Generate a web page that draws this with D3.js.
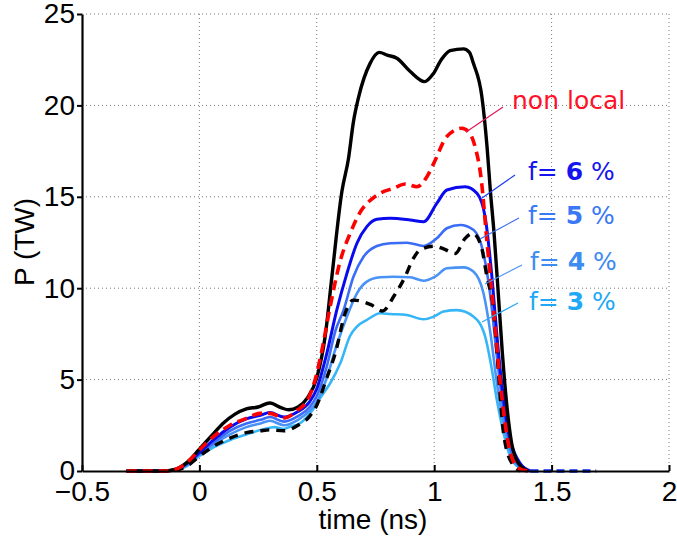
<!DOCTYPE html>
<html>
<head>
<meta charset="utf-8">
<script src="https://cdn.jsdelivr.net/npm/d3@7/dist/d3.min.js"></script>
<style>
  body { margin: 0; background: #fff; }
  svg { display: block; }
  .tick text { font-family: "Liberation Sans", Arial, sans-serif; font-size: 28px; fill: #000; }
</style>
</head>
<body>
<div id="chart"></div>
<script>
// time (ns) and power (TW), one pair of arrays per curve
let tBlack = [-0.31, -0.15, -0.1, -0.05, 0, 0.05, 0.1, 0.15, 0.2, 0.25, 0.3, 0.35, 0.38, 0.42, 0.46, 0.5, 0.536, 0.564, 0.607, 0.635, 0.656, 0.677, 0.727, 0.766, 0.8, 0.841, 0.898, 0.959, 0.997, 1.03, 1.068, 1.125, 1.15, 1.167, 1.203, 1.225, 1.239, 1.255, 1.274, 1.29, 1.31, 1.33, 1.36, 1.4];
let pBlack = [0, 0, 0.1, 0.5, 1.2, 1.9, 2.6, 3.1, 3.4, 3.5, 3.72, 3.45, 3.35, 3.5, 4.0, 5.1, 7.4, 10.6, 15.3, 17.1, 19.1, 20.4, 22.3, 22.9, 22.75, 22.58, 21.85, 21.3, 21.75, 22.5, 23.0, 23.09, 22.9, 22.3, 20.48, 17.74, 15.37, 13.0, 9.5, 6.5, 3.5, 1.5, 0.4, 0];

let tRed = [-0.31, -0.15, -0.1, -0.05, 0, 0.06, 0.13, 0.2, 0.26, 0.3, 0.36, 0.415, 0.465, 0.493, 0.52, 0.557, 0.6, 0.642, 0.692, 0.727, 0.77, 0.827, 0.877, 0.926, 0.969, 0.997, 1.054, 1.118, 1.15, 1.175, 1.2, 1.225, 1.253, 1.28, 1.3, 1.324, 1.36, 1.4];
let pRed = [0, 0, 0.1, 0.5, 1.15, 1.88, 2.5, 2.88, 3.15, 3.15, 2.9, 3.3, 4.0, 5.0, 6.5, 9.0, 11.5, 13.0, 14.3, 14.8, 15.2, 15.47, 15.7, 15.55, 16.1, 16.8, 18.3, 18.75, 18.5, 17.7, 16.0, 12.5, 8.8, 5.0, 2.8, 1.0, 0.15, 0];

let tDash = [-0.31, -0.15, -0.1, -0.05, 0, 0.06, 0.13, 0.2, 0.26, 0.3, 0.36, 0.42, 0.47, 0.5, 0.54, 0.58, 0.62, 0.655, 0.73, 0.78, 0.83, 0.875, 0.91, 0.94, 1.0, 1.04, 1.09, 1.13, 1.165, 1.2, 1.225, 1.253, 1.27, 1.296, 1.331, 1.366];
let pDash = [0, 0, 0.05, 0.3, 0.8, 1.35, 1.8, 2.1, 2.2, 2.25, 2.2, 2.5, 3.0, 3.6, 5.0, 6.5, 8.6, 9.35, 9.1, 8.75, 9.6, 10.6, 11.6, 12.1, 12.3, 12.15, 11.9, 12.7, 13.0, 12.3, 10.6, 8.8, 6.0, 2.0, 0.42, 0];

let t6 = [-0.31, -0.15, -0.1, -0.05, 0, 0.06, 0.13, 0.2, 0.26, 0.3, 0.36, 0.42, 0.47, 0.5, 0.54, 0.585, 0.628, 0.671, 0.713, 0.756, 0.813, 0.898, 0.955, 1.011, 1.054, 1.132, 1.182, 1.217, 1.246, 1.27, 1.29, 1.31, 1.324, 1.366, 1.41];
let p6 = [0, 0, 0.08, 0.45, 1.0, 1.7, 2.4, 2.85, 3.05, 3.2, 2.95, 3.25, 3.8, 4.5, 6.3, 8.8, 10.8, 12.46, 13.37, 13.77, 13.82, 13.73, 13.64, 14.64, 15.37, 15.55, 15.19, 13.9, 10.6, 7.0, 4.5, 2.6, 1.7, 0.42, 0];

let t5 = [-0.31, -0.15, -0.1, -0.05, 0, 0.06, 0.13, 0.2, 0.26, 0.3, 0.36, 0.42, 0.47, 0.5, 0.54, 0.58, 0.614, 0.656, 0.699, 0.756, 0.813, 0.884, 0.955, 1.011, 1.054, 1.111, 1.168, 1.21, 1.24, 1.265, 1.29, 1.31, 1.33, 1.36, 1.4];
let p5 = [0, 0, 0.07, 0.4, 0.95, 1.55, 2.2, 2.6, 2.8, 2.95, 2.7, 3.0, 3.5, 4.1, 5.6, 7.7, 8.8, 10.63, 11.72, 12.31, 12.46, 12.49, 12.31, 12.73, 13.28, 13.46, 13.18, 11.9, 9.5, 6.5, 3.8, 2.2, 1.0, 0.3, 0];

let t4 = [-0.31, -0.15, -0.1, -0.05, 0, 0.06, 0.13, 0.2, 0.26, 0.3, 0.36, 0.42, 0.47, 0.5, 0.54, 0.58, 0.628, 0.671, 0.713, 0.77, 0.827, 0.898, 0.955, 1.004, 1.054, 1.125, 1.168, 1.21, 1.24, 1.265, 1.29, 1.31, 1.33, 1.36, 1.4];
let p4 = [0, 0, 0.06, 0.35, 0.9, 1.45, 2.0, 2.4, 2.6, 2.75, 2.5, 2.8, 3.3, 3.8, 5.0, 6.7, 8.44, 9.72, 10.36, 10.6, 10.63, 10.6, 10.41, 10.63, 11.09, 11.14, 10.9, 9.72, 7.5, 5.0, 3.0, 1.8, 0.9, 0.25, 0];

let t3 = [-0.31, -0.15, -0.1, -0.05, 0, 0.06, 0.131, 0.2, 0.273, 0.32, 0.36, 0.386, 0.429, 0.486, 0.52, 0.557, 0.6, 0.642, 0.671, 0.713, 0.77, 0.813, 0.884, 0.955, 0.997, 1.04, 1.097, 1.168, 1.217, 1.246, 1.267, 1.296, 1.324, 1.366, 1.4];
let p3 = [0, 0, 0.05, 0.3, 0.82, 1.3, 1.7, 2.0, 2.28, 2.4, 2.3, 2.42, 2.61, 3.4, 4.1, 4.8, 5.89, 7.4, 7.9, 8.26, 8.63, 8.59, 8.53, 8.3, 8.44, 8.72, 8.8, 8.44, 7.35, 5.53, 3.88, 2.06, 0.78, 0.15, 0];

let tTail = [1.41, 1.69];
let pTail = [0, 0];

let xTicks = [-0.5, 0, 0.5, 1, 1.5, 2];
let yTicks = [0, 5, 10, 15, 20, 25];

let width = 677,
    height = 541;

let x = d3.scaleLinear().domain([-0.5, 2]).range([82, 669]);
let y = d3.scaleLinear().domain([0, 25]).range([471, 14]);

let svg = d3.select("#chart")
      .append("svg")
      .attr("width", width)
      .attr("height", height);

// dotted grid
svg.append("g").selectAll("line")
    .data(xTicks.slice(1))
    .enter().append("line")
    .attr("x1", d => x(d)).attr("x2", d => x(d))
    .attr("y1", y(0)).attr("y2", y(25))
    .style("stroke", "#7a7a7a").style("stroke-width", 1)
    .style("stroke-dasharray", "1,3");

svg.append("g").selectAll("line")
    .data(yTicks.slice(1))
    .enter().append("line")
    .attr("x1", x(-0.5)).attr("x2", x(2))
    .attr("y1", d => y(d)).attr("y2", d => y(d))
    .style("stroke", "#7a7a7a").style("stroke-width", 1)
    .style("stroke-dasharray", "1,3");

let line = d3.line()
      .x(d => x(d[0]))
      .y(d => y(d[1]))
      .curve(d3.curveMonotoneX);

function pairs(t, p) { return t.map((v, i) => [v, p[i]]); }

let series = [
  { t: t3, p: p3, color: "#36b6f8", w: 2.6, dash: null },
  { t: t4, p: p4, color: "#4a93f6", w: 2.6, dash: null },
  { t: t5, p: p5, color: "#3a6cf6", w: 2.6, dash: null },
  { t: t6, p: p6, color: "#0a0aee", w: 3, dash: null },
  { t: tBlack, p: pBlack, color: "#000", w: 3.4, dash: null },
  { t: tDash, p: pDash, color: "#000", w: 3.4, dash: "9,7" },
  { t: tRed, p: pRed, color: "#ff0000", w: 3.6, dash: "10,6" },
  { t: tTail, p: pTail, color: "#0a2af0", w: 3.6, dash: "8,5" }
];

svg.append("g").selectAll("path")
    .data(series)
    .enter().append("path")
    .attr("d", d => line(pairs(d.t, d.p)))
    .style("fill", "none")
    .style("stroke", d => d.color)
    .style("stroke-width", d => d.w)
    .style("stroke-dasharray", d => d.dash)
    .style("stroke-linejoin", "round");

// axes
let xAxis = d3.axisBottom(x)
      .tickValues(xTicks)
      .tickFormat(d => d < 0 ? "\u2212" + Math.abs(d) : d)
      .tickSizeInner(-6)
      .tickSizeOuter(0)
      .tickPadding(10);

let yAxis = d3.axisLeft(y)
      .tickValues(yTicks)
      .tickSizeInner(5)
      .tickSizeOuter(0)
      .tickPadding(2);

let gx = svg.append("g").attr("transform", "translate(0," + y(0) + ")").call(xAxis);
let gy = svg.append("g").attr("transform", "translate(" + x(-0.5) + ",0)").call(yAxis);
[gx, gy].forEach(g => {
  g.select(".domain").style("stroke", "#000").style("stroke-width", 2.2);
  g.selectAll(".tick line").style("stroke", "#000").style("stroke-width", 2);
  g.selectAll(".tick text").attr("font-family", null).attr("font-size", null);
});
gy.selectAll(".tick text").attr("dy", "0.32em");

// axis titles
svg.append("text")
    .attr("x", 373).attr("y", 529)
    .attr("text-anchor", "middle")
    .style("font-family", "Liberation Sans, Arial, sans-serif")
    .style("font-size", "28px")
    .text("time (ns)");

svg.append("text")
    .attr("transform", "translate(34,242) rotate(-90)")
    .attr("text-anchor", "middle")
    .style("font-family", "Liberation Sans, Arial, sans-serif")
    .style("font-size", "28px")
    .text("P (TW)");

//Labels with leader lines
let labels = [
  { pre: "non local", num: "", post: "", color: "#ff1028", lc: "#e0185a", tx: 512, ty: 109, l: [503, 107, 466, 132] },
  { pre: "f= ", num: "6", post: " %", color: "#1414ee", lc: "#1a3cf0", tx: 528, ty: 180, l: [515, 175, 482, 198] },
  { pre: "f= ", num: "5", post: " %", color: "#3b78f5", lc: "#3a6cf6", tx: 528, ty: 224, l: [519, 218, 480, 239] },
  { pre: "f= ", num: "4", post: " %", color: "#3d8cf2", lc: "#4a93f6", tx: 530, ty: 270, l: [522, 265, 485, 284] },
  { pre: "f= ", num: "3", post: " %", color: "#1fa8f5", lc: "#2aa8f5", tx: 529, ty: 310, l: [518, 303, 482, 322] }
];

labels.forEach(function(d) {
  svg.append("line")
      .attr("x1", d.l[0]).attr("y1", d.l[1])
      .attr("x2", d.l[2]).attr("y2", d.l[3])
      .style("stroke", d.lc).style("stroke-width", 1.2);
  let t = svg.append("text")
      .attr("x", d.tx).attr("y", d.ty)
      .style("font-family", "DejaVu Sans, sans-serif")
      .style("font-size", "25px")
      .style("fill", d.color)
      .attr("xml:space", "preserve");
  t.append("tspan").text(d.pre);
  if (d.num) {
    t.append("tspan").style("font-weight", "bold").text(d.num);
    t.append("tspan").text(d.post);
  }
});
</script>
</body>
</html>
